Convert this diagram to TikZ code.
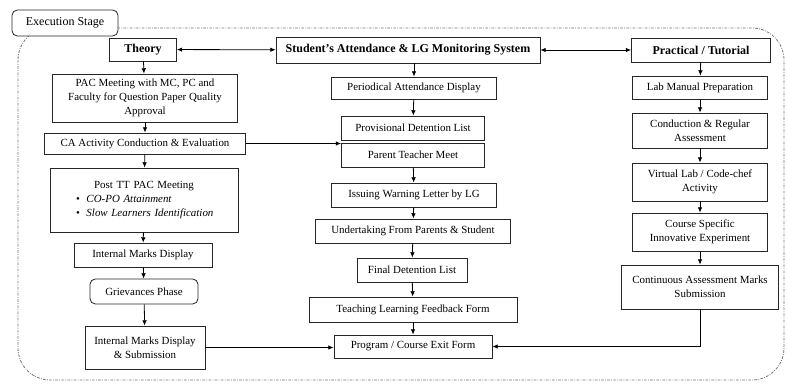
\documentclass[tikz,border=0pt]{standalone}
\usepackage{fontspec}
\setmainfont{Liberation Serif}
\usepackage{tikz}
\usetikzlibrary{arrows.meta}

\begin{document}
\begin{tikzpicture}[x=0.75pt,y=-0.75pt,
  bx/.style={draw=black!85,line width=0.6pt,fill=white,align=center,inner sep=2pt,
    font=\fontsize{8.2}{10.5}\selectfont},
  hd/.style={bx,font=\fontsize{9}{11}\selectfont\bfseries},
  sz/.style 2 args={minimum width=#1*0.75pt,minimum height=#2*0.75pt},
  ar/.style={-{Latex[length=4pt,width=3.4pt]},line width=0.6pt},
  dar/.style={{Latex[length=4pt,width=3.4pt]}-{Latex[length=4pt,width=3.4pt]},line width=0.6pt},
  frame/.style={draw=black!55,line width=0.6pt,dash pattern=on 2pt off 1pt on 0.6pt off 1pt,rounded corners=24pt}]
\useasboundingbox (0,0) rectangle (788,390);
\draw[frame] (18,28) rectangle (784,380);
\node[bx,sz={106}{26},rounded corners=4pt,font=\fontsize{9}{11}\selectfont] (es) at (65,23) {Execution Stage};

\node[hd,sz={67}{23}] (th) at (143,49.5) {Theory};
\node[hd,sz={264}{26}] (sams) at (408,50) {Student's Attendance \& LG Monitoring System};
\node[hd,sz={139}{24}] (prac) at (701,50) {Practical / Tutorial};

\node[bx,sz={185}{48}] (pac) at (145,98) {PAC Meeting with MC, PC and\\Faculty for Question Paper Quality\\Approval};
\node[bx,sz={201}{21}] (ca) at (145,143.5) {CA Activity Conduction \& Evaluation};
\node[bx,sz={188}{64},text width=134pt,inner sep=3.5pt] (ptt) at (144,200) {\centering Post TT PAC Meeting\par
  \raggedright\leftskip=16pt \textbullet\hspace{5pt}\textit{CO-PO Attainment}\par
  \textbullet\hspace{5pt}\textit{Slow Learners Identification}\par};
\node[bx,sz={138}{24}] (imd) at (143,255) {Internal Marks Display};
\node[bx,sz={108}{25},rounded corners=4pt] (grv) at (144,291.5) {Grievances Phase};
\node[bx,sz={120}{43}] (imds) at (145,347.5) {Internal Marks Display\\\& Submission};

\node[bx,sz={165}{22}] (pad) at (414,88) {Periodical Attendance Display};
\node[bx,sz={143}{24}] (pdl) at (413,128) {Provisional Detention List};
\node[bx,sz={143}{24}] (ptm) at (413,155) {Parent Teacher Meet};
\node[bx,sz={165}{24}] (iwl) at (414,195) {Issuing Warning Letter by LG};
\node[bx,sz={195}{24}] (ufp) at (413,231) {Undertaking From Parents \& Student};
\node[bx,sz={110}{24}] (fdl) at (412,270) {Final Detention List};
\node[bx,sz={208}{25}] (tlf) at (413,309.5) {Teaching Learning Feedback Form};
\node[bx,sz={158}{23}] (pcef) at (413,346.5) {Program / Course Exit Form};

\node[bx,sz={135}{23}] (lmp) at (700,87.5) {Lab Manual Preparation};
\node[bx,sz={135}{35}] (cra) at (700,130.5) {Conduction \& Regular\\Assessment};
\node[bx,sz={135}{38}] (vlc) at (700,182) {Virtual Lab / Code-chef\\Activity};
\node[bx,sz={135}{38}] (csie) at (700,232) {Course Specific\\Innovative Experiment};
\node[bx,sz={157}{44}] (cams) at (700,287) {Continuous Assessment Marks\\Submission};

\draw[dar] (th) -- (sams);
\draw[dar] (sams) -- (prac);

\draw[ar] (th) -- (pac);
\draw[ar] (pac) -- (ca);
\draw[ar] (ca) -- (ptt);
\draw[ar] (ptt) -- (imd);
\draw[ar] (imd) -- (grv);
\draw[ar] (grv) -- (imds);
\draw[ar] (ca.east) -- (ca.east -| ptm.west);
\draw[ar] (imds.east) -- (imds.east -| pcef.west);

\draw[ar] (sams.south -| pad.north) -- (pad);
\draw[ar] (pad) -- (pdl);
\draw[ar] (ptm) -- (iwl);
\draw[ar] (iwl) -- (ufp);
\draw[ar] (ufp) -- (fdl);
\draw[ar] (fdl) -- (tlf);
\draw[ar] (tlf) -- (pcef);

\draw[ar] (prac) -- (lmp);
\draw[ar] (lmp) -- (cra);
\draw[ar] (cra) -- (vlc);
\draw[ar] (vlc) -- (csie);
\draw[ar] (csie) -- (cams);
\draw[ar] (cams.south) |- (pcef.east);
\end{tikzpicture}
\end{document}
